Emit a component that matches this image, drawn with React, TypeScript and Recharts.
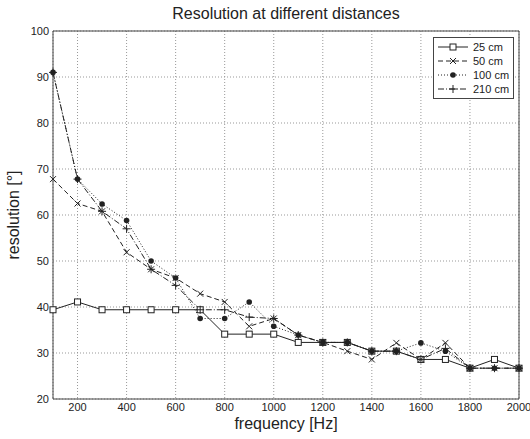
import React from "react";
import { LineChart, Line, XAxis, YAxis, CartesianGrid, Legend } from "recharts";

const freqs = [100, 200, 300, 400, 500, 600, 700, 800, 900, 1000, 1100, 1200, 1300, 1400, 1500, 1600, 1700, 1800, 1900, 2000];
const res25 = [39.4, 41.1, 39.4, 39.4, 39.4, 39.4, 39.4, 34.1, 34.1, 34.1, 32.3, 32.3, 32.3, 30.4, 30.4, 28.6, 28.6, 26.7, 28.6, 26.7];
const res50 = [67.8, 62.5, 60.8, 51.9, 48.2, 46.3, 42.9, 41.1, 35.8, 37.5, 33.9, 32.3, 30.4, 28.6, 32.2, 28.6, 32.2, 26.7, 26.7, 26.7];
const res100 = [91.0, 67.8, 62.4, 58.8, 50.0, 46.3, 37.5, 37.5, 41.1, 35.8, 33.9, 32.3, 32.3, 30.4, 30.4, 32.2, 30.4, 26.7, 26.7, 26.7];
const res210 = [91.0, 67.8, 60.8, 57.0, 48.2, 44.7, 39.4, 39.4, 37.8, 37.5, 33.9, 32.3, 32.3, 30.4, 30.4, 28.6, 31.0, 26.7, 26.7, 26.7];

const xTicks = [200, 400, 600, 800, 1000, 1200, 1400, 1600, 1800, 2000];
const yTicks = [20, 30, 40, 50, 60, 70, 80, 90, 100];

const series = [
  { key: "d25", name: "25 cm", values: res25, dash: undefined, marker: "square" },
  { key: "d50", name: "50 cm", values: res50, dash: "5 3", marker: "x" },
  { key: "d100", name: "100 cm", values: res100, dash: "1 2", marker: "dot" },
  { key: "d210", name: "210 cm", values: res210, dash: "6 2 1 2", marker: "plus" },
];

const data = freqs.map((f, i) => {
  const row: any = { freq: f };
  series.forEach((s) => (row[s.key] = s.values[i]));
  return row;
});

const INK = "#222";
const FONT = "'Liberation Sans', Arial, Helvetica, sans-serif";

const Marker = ({ kind, cx, cy }: { kind: string; cx: number; cy: number }) => {
  if (cx == null || cy == null) return null;
  if (kind === "square")
    return <rect x={cx - 3} y={cy - 3} width={6} height={6} fill="#fff" stroke={INK} strokeWidth={1} />;
  if (kind === "x")
    return (
      <g stroke={INK} strokeWidth={1}>
        <line x1={cx - 3} y1={cy - 3} x2={cx + 3} y2={cy + 3} />
        <line x1={cx - 3} y1={cy + 3} x2={cx + 3} y2={cy - 3} />
      </g>
    );
  if (kind === "dot") return <circle cx={cx} cy={cy} r={2.8} fill={INK} />;
  return (
    <g stroke={INK} strokeWidth={1}>
      <line x1={cx - 4} y1={cy} x2={cx + 4} y2={cy} />
      <line x1={cx} y1={cy - 4} x2={cx} y2={cy + 4} />
    </g>
  );
};

const LegendBox = () => (
  <div
    style={{
      border: "1px solid #444",
      background: "#fff",
      padding: "2px 3px",
      fontFamily: FONT,
      fontSize: 11,
      color: INK,
      whiteSpace: "nowrap",
    }}
  >
    {series.map((s) => (
      <div key={s.key} style={{ display: "flex", alignItems: "center", height: 14 }}>
        <svg width={32} height={12} style={{ marginRight: 4, flex: "none" }}>
          <line x1={1} y1={6} x2={31} y2={6} stroke={INK} strokeWidth={1} strokeDasharray={s.dash} />
          <Marker kind={s.marker} cx={16} cy={6} />
        </svg>
        <span>{s.name}</span>
      </div>
    ))}
  </div>
);

export default function App() {
  return (
    <div style={{ position: "absolute", left: 0, top: 0, width: 530, height: 439, background: "#fff" }}>
      <LineChart width={530} height={439} data={data} margin={{ top: 31, right: 11, left: 0, bottom: 0 }}>
        <CartesianGrid stroke="#999" strokeDasharray="1 2" />
        <XAxis
          dataKey="freq"
          type="number"
          domain={[100, 2000]}
          ticks={xTicks}
          height={40}
          tickLine={false}
          tickSize={0}
          tickMargin={4}
          stroke="#444"
          tick={{ fontSize: 11, fill: INK, fontFamily: FONT }}
        />
        <XAxis xAxisId="bt" dataKey="freq" type="number" domain={[100, 2000]} ticks={xTicks} mirror tick={false} tickSize={4} axisLine={false} stroke="#444" />
        <XAxis xAxisId="tp" orientation="top" dataKey="freq" type="number" domain={[100, 2000]} ticks={xTicks} mirror tick={false} tickSize={4} stroke="#444" />
        <YAxis
          type="number"
          domain={[20, 100]}
          ticks={yTicks}
          width={53}
          tickLine={false}
          tickSize={0}
          tickMargin={4}
          stroke="#444"
          tick={{ fontSize: 11, fill: INK, fontFamily: FONT }}
        />
        <YAxis yAxisId="lf" type="number" domain={[20, 100]} ticks={yTicks} mirror tick={false} tickSize={4} axisLine={false} stroke="#444" />
        <YAxis yAxisId="rt" orientation="right" type="number" domain={[20, 100]} ticks={yTicks} mirror tick={false} tickSize={4} stroke="#444" />
        <Legend
          layout="horizontal"
          verticalAlign="middle"
          align="center"
          content={() => <LegendBox />}
          wrapperStyle={{ position: "absolute", top: 37, left: 433, width: 81, height: "auto" }}
        />
        {series.map((s) => (
          <Line
            key={s.key}
            dataKey={s.key}
            name={s.name}
            type="linear"
            stroke={INK}
            strokeWidth={1}
            strokeDasharray={s.dash}
            dot={(p: any) => <Marker key={`${s.key}-${p.index}`} kind={s.marker} cx={p.cx} cy={p.cy} />}
            activeDot={false}
            isAnimationActive={false}
          />
        ))}
      </LineChart>
      <div style={{ position: "absolute", left: 53, width: 466, top: 5, textAlign: "center", fontFamily: FONT, fontSize: 16, color: INK }}>
        Resolution at different distances
      </div>
      <div style={{ position: "absolute", left: 53, width: 466, top: 415, textAlign: "center", fontFamily: FONT, fontSize: 16, color: INK }}>
        frequency [Hz]
      </div>
      <div
        style={{
          position: "absolute",
          left: 14,
          top: 215,
          transform: "translate(-50%, -50%) rotate(-90deg)",
          whiteSpace: "nowrap",
          fontFamily: FONT,
          fontSize: 16,
          color: INK,
        }}
      >
        resolution [°]
      </div>
    </div>
  );
}
